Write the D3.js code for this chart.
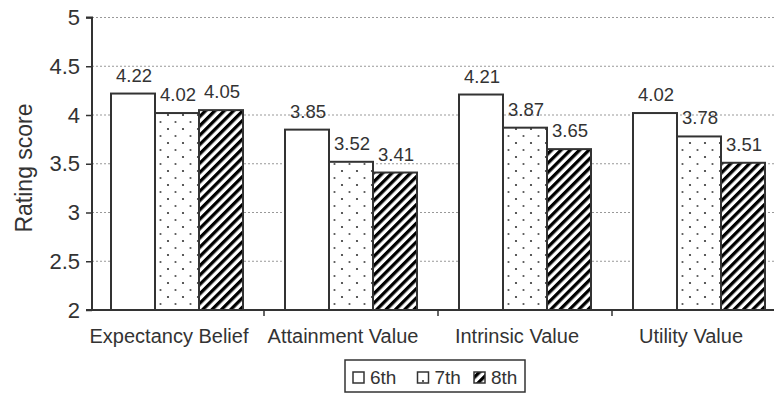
<!DOCTYPE html>
<html><head><meta charset="utf-8">
<script src="https://cdn.jsdelivr.net/npm/d3@7"></script>
<style>body{margin:0;background:#fff;} svg{display:block;font-family:"Liberation Sans",Arial,sans-serif;}</style>
</head><body>
<script>
const categories = ["Expectancy Belief", "Attainment Value", "Intrinsic Value", "Utility Value"];
const grades = ["6th", "7th", "8th"];
const g6 = [4.22, 3.85, 4.21, 4.02];
const g7 = [4.02, 3.52, 3.87, 3.78];
const g8 = [4.05, 3.41, 3.65, 3.51];
const yTicks = [2, 2.5, 3, 3.5, 4, 4.5, 5];
const yTickLabels = ["2", "2.5", "3", "3.5", "4", "4.5", "5"];
const seriesValues = [g6, g7, g8];

const W = 774, H = 397;
const svg = d3.select("body").append("svg").attr("width", W).attr("height", H);
const defs = svg.append("defs");
// dotted pattern
const pd = defs.append("pattern").attr("id","dots").attr("patternUnits","userSpaceOnUse")
  .attr("width",15).attr("height",14);
pd.append("rect").attr("width",15).attr("height",14).attr("fill","#fff");
pd.append("circle").attr("cx",3).attr("cy",3).attr("r",1.1).attr("fill","#333");
pd.append("circle").attr("cx",10.5).attr("cy",10).attr("r",1.1).attr("fill","#555");
// hatch pattern
const ph = defs.append("pattern").attr("id","hatch").attr("patternUnits","userSpaceOnUse")
  .attr("width",6.6).attr("height",6.6).attr("patternTransform","rotate(45)");
ph.append("rect").attr("width",6.6).attr("height",6.6).attr("fill","#fff");
ph.append("rect").attr("x",0).attr("y",0).attr("width",3.3).attr("height",6.6).attr("fill","#000");
const fills = ["#fff","url(#dots)","url(#hatch)"];

const x0 = d3.scaleBand().domain(categories).range([90, 786]).paddingInner(0).paddingOuter(0);
const x1 = d3.scaleBand().domain(grades).range([21, x0.bandwidth()-21]).padding(0);
const y = d3.scaleLinear().domain([2,5]).range([310, 17.5]);

// grid
svg.append("g").selectAll("line").data(yTicks.slice(1)).join("line")
  .attr("x1",92).attr("x2",W).attr("y1",d=>y(d)).attr("y2",d=>y(d))
  .attr("stroke","#999").attr("stroke-width",1).attr("stroke-dasharray","2,2");

// bars
const groups = svg.append("g").selectAll("g").data(categories).join("g")
  .attr("transform", c => `translate(${x0(c)},0)`);
groups.each(function(c, ci){
  const gsel = d3.select(this);
  grades.forEach((gr, gi) => {
    const v = seriesValues[gi][ci];
    gsel.append("rect").attr("x", x1(gr)).attr("y", y(v))
      .attr("width", x1.bandwidth()).attr("height", y(2)-y(v))
      .attr("fill", fills[gi]).attr("stroke","#333").attr("stroke-width",2);
    gsel.append("text").attr("x", x1(gr)+x1.bandwidth()/2+1).attr("y", y(v)-12)
      .attr("text-anchor","middle").attr("font-size",18.5).attr("fill","#333")
      .text(v.toFixed(2));
  });
});

// y axis
const yAxis = d3.axisLeft(y).tickValues(yTicks).tickFormat((d,i)=>yTickLabels[i]).tickSize(6).tickPadding(6);
const ya = svg.append("g").attr("transform","translate(92,0)").call(yAxis);
ya.select(".domain").attr("stroke","#333").attr("stroke-width",2).attr("d","M-6,17.5H0V310H-6");
ya.selectAll(".tick line").attr("stroke","#333").attr("stroke-width",1.5);
ya.selectAll(".tick text").attr("font-size",22).attr("fill","#333").attr("font-family","Liberation Sans, Arial, sans-serif");

// x axis
const xa = svg.append("g").attr("transform","translate(0,310)");
xa.append("line").attr("x1",86).attr("x2",W).attr("y1",0).attr("y2",0).attr("stroke","#333").attr("stroke-width",2);
xa.selectAll("line.tk").data(categories.slice(1)).join("line").attr("class","tk")
  .attr("x1",c=>x0(c)).attr("x2",c=>x0(c)).attr("y1",0).attr("y2",6).attr("stroke","#333").attr("stroke-width",1.5);
xa.selectAll("text").data(categories).join("text")
  .attr("x",c=>x0(c)+x0.bandwidth()/2-8).attr("y",33).attr("text-anchor","middle")
  .attr("font-size",20).attr("fill","#333").text(c=>c);

// y label
svg.append("text").attr("transform","translate(32,168) rotate(-90)").attr("text-anchor","middle")
  .attr("font-size",23).attr("fill","#333").text("Rating score");

// legend
const lg = svg.append("g");
lg.append("rect").attr("x",345).attr("y",360).attr("width",180).attr("height",32)
  .attr("fill","#fff").attr("stroke","#333").attr("stroke-width",1.5);
const lx = d3.scalePoint().domain(grades).range([353, 474]);
grades.forEach((gr, gi) => {
  const xo = lx(gr) + [0, 4, 0][gi];
  lg.append("rect").attr("x", xo).attr("y",372).attr("width",11).attr("height",11)
    .attr("fill", fills[gi]).attr("stroke","#333").attr("stroke-width",1.5);
  lg.append("text").attr("x", xo+17).attr("y",384).attr("font-size",19).attr("fill","#333").text(gr);
});
</script>
</body></html>
